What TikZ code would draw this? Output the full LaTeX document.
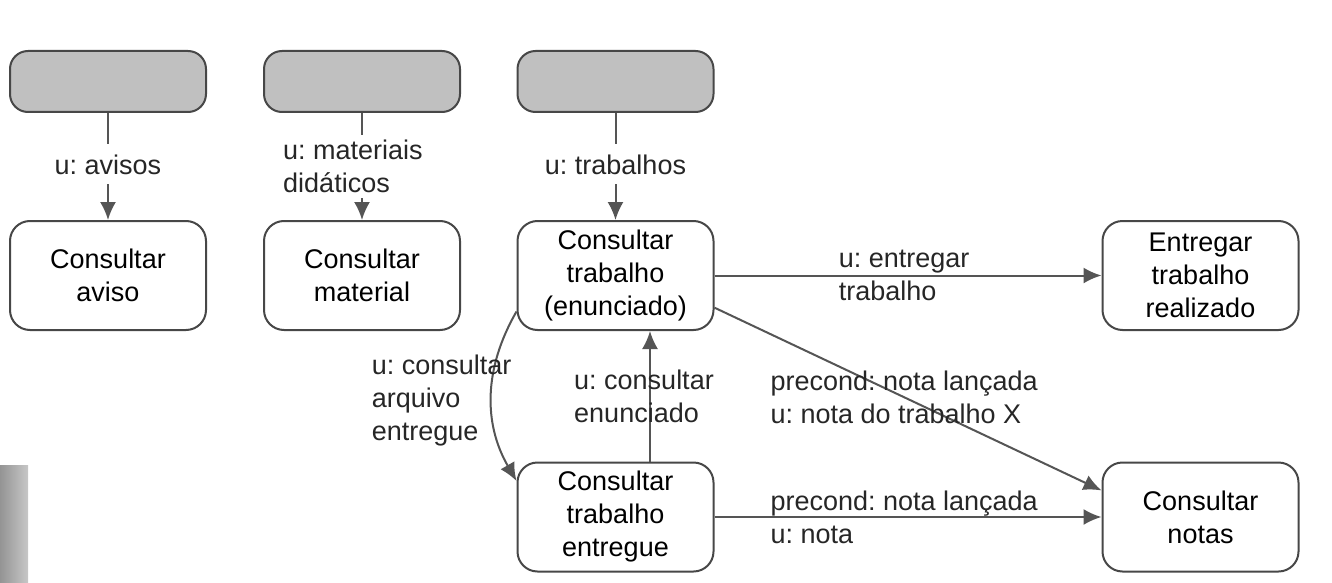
\documentclass[tikz,border=0pt]{standalone}
\usepackage{fontspec}
\setmainfont{Liberation Sans}
\usepackage{tikz}
\usetikzlibrary{arrows.meta}

\definecolor{boxline}{HTML}{474747}
\definecolor{boxfill}{HTML}{C0C0C0}
\definecolor{arrowline}{HTML}{555555}
\newcommand{\diagfont}{\fontsize{13.5}{16.5}\selectfont\frenchspacing}

\begin{document}
\begin{tikzpicture}[x=0.5pt, y=-0.5pt,
  actbox/.style={draw=boxline, line width=1pt, rounded corners=10pt, minimum width=98pt, minimum height=54.5pt, align=center, inner sep=1pt, font=\diagfont},
  srcbox/.style={draw=boxline, fill=boxfill, line width=1pt, rounded corners=9pt, minimum width=98pt, minimum height=30.5pt},
  link/.style={-{Latex[length=9pt, width=8pt]}, draw=arrowline, line width=1pt},
  edgelabel/.style={font=\diagfont, align=left, inner sep=1pt, text=black!85}]
\useasboundingbox (0,0) rectangle (1332,583);
\shade[left color=black!42, right color=black!22] (0,465) rectangle (28,583);

\node[srcbox] at (108,81.5) (s1) {};
\node[srcbox] at (362,81.5) (s2) {};
\node[srcbox] at (615.5,81.5) (s3) {};

\node[actbox] at (108,275.5) (aviso) {Consultar\\aviso};
\node[actbox] at (362,275.5) (material) {Consultar\\material};
\node[actbox] at (615.5,275.5) (enunc) {Consultar\\trabalho\\(enunciado)};
\node[actbox] at (1200.5,275.5) (entrega) {Entregar\\trabalho\\realizado};
\node[actbox] at (615.5,517) (entregue) {Consultar\\trabalho\\entregue};
\node[actbox] at (1200.5,517) (notas) {Consultar\\notas};

\draw[link] (s1) -- node[edgelabel, fill=white, inner xsep=3pt, inner ysep=5pt, pos=0.48]{u: avisos} (aviso);
\draw[link] (s2) -- node[edgelabel, fill=white, inner ysep=2.5pt, pos=0.5, xshift=-4.5pt]{u: materiais\\didáticos} (material);
\draw[link] (s3) -- node[edgelabel, fill=white, inner xsep=3pt, inner ysep=5pt, pos=0.48]{u: trabalhos} (enunc);

\draw[link] (enunc) -- node[edgelabel, pos=0.49]{u: entregar\\trabalho} (entrega);
\draw[link] (enunc.-18) -- node[edgelabel, pos=0.49]{precond: nota lançada\\u: nota do trabalho X} (notas.165);
\draw[link] (entregue) -- node[edgelabel, pos=0.49]{precond: nota lançada\\u: nota} (notas);

\draw[link] ([xshift=17.25pt]entregue.north) -- node[edgelabel, pos=0.5, xshift=-3pt]{u: consultar\\enunciado} ([xshift=17.25pt]enunc.south);
\draw[link] (enunc.200) to [bend right=30] node[edgelabel, pos=0.5, xshift=-25pt, yshift=-2pt]{u: consultar\\arquivo\\entregue} (entregue.160);

\end{tikzpicture}
\end{document}
